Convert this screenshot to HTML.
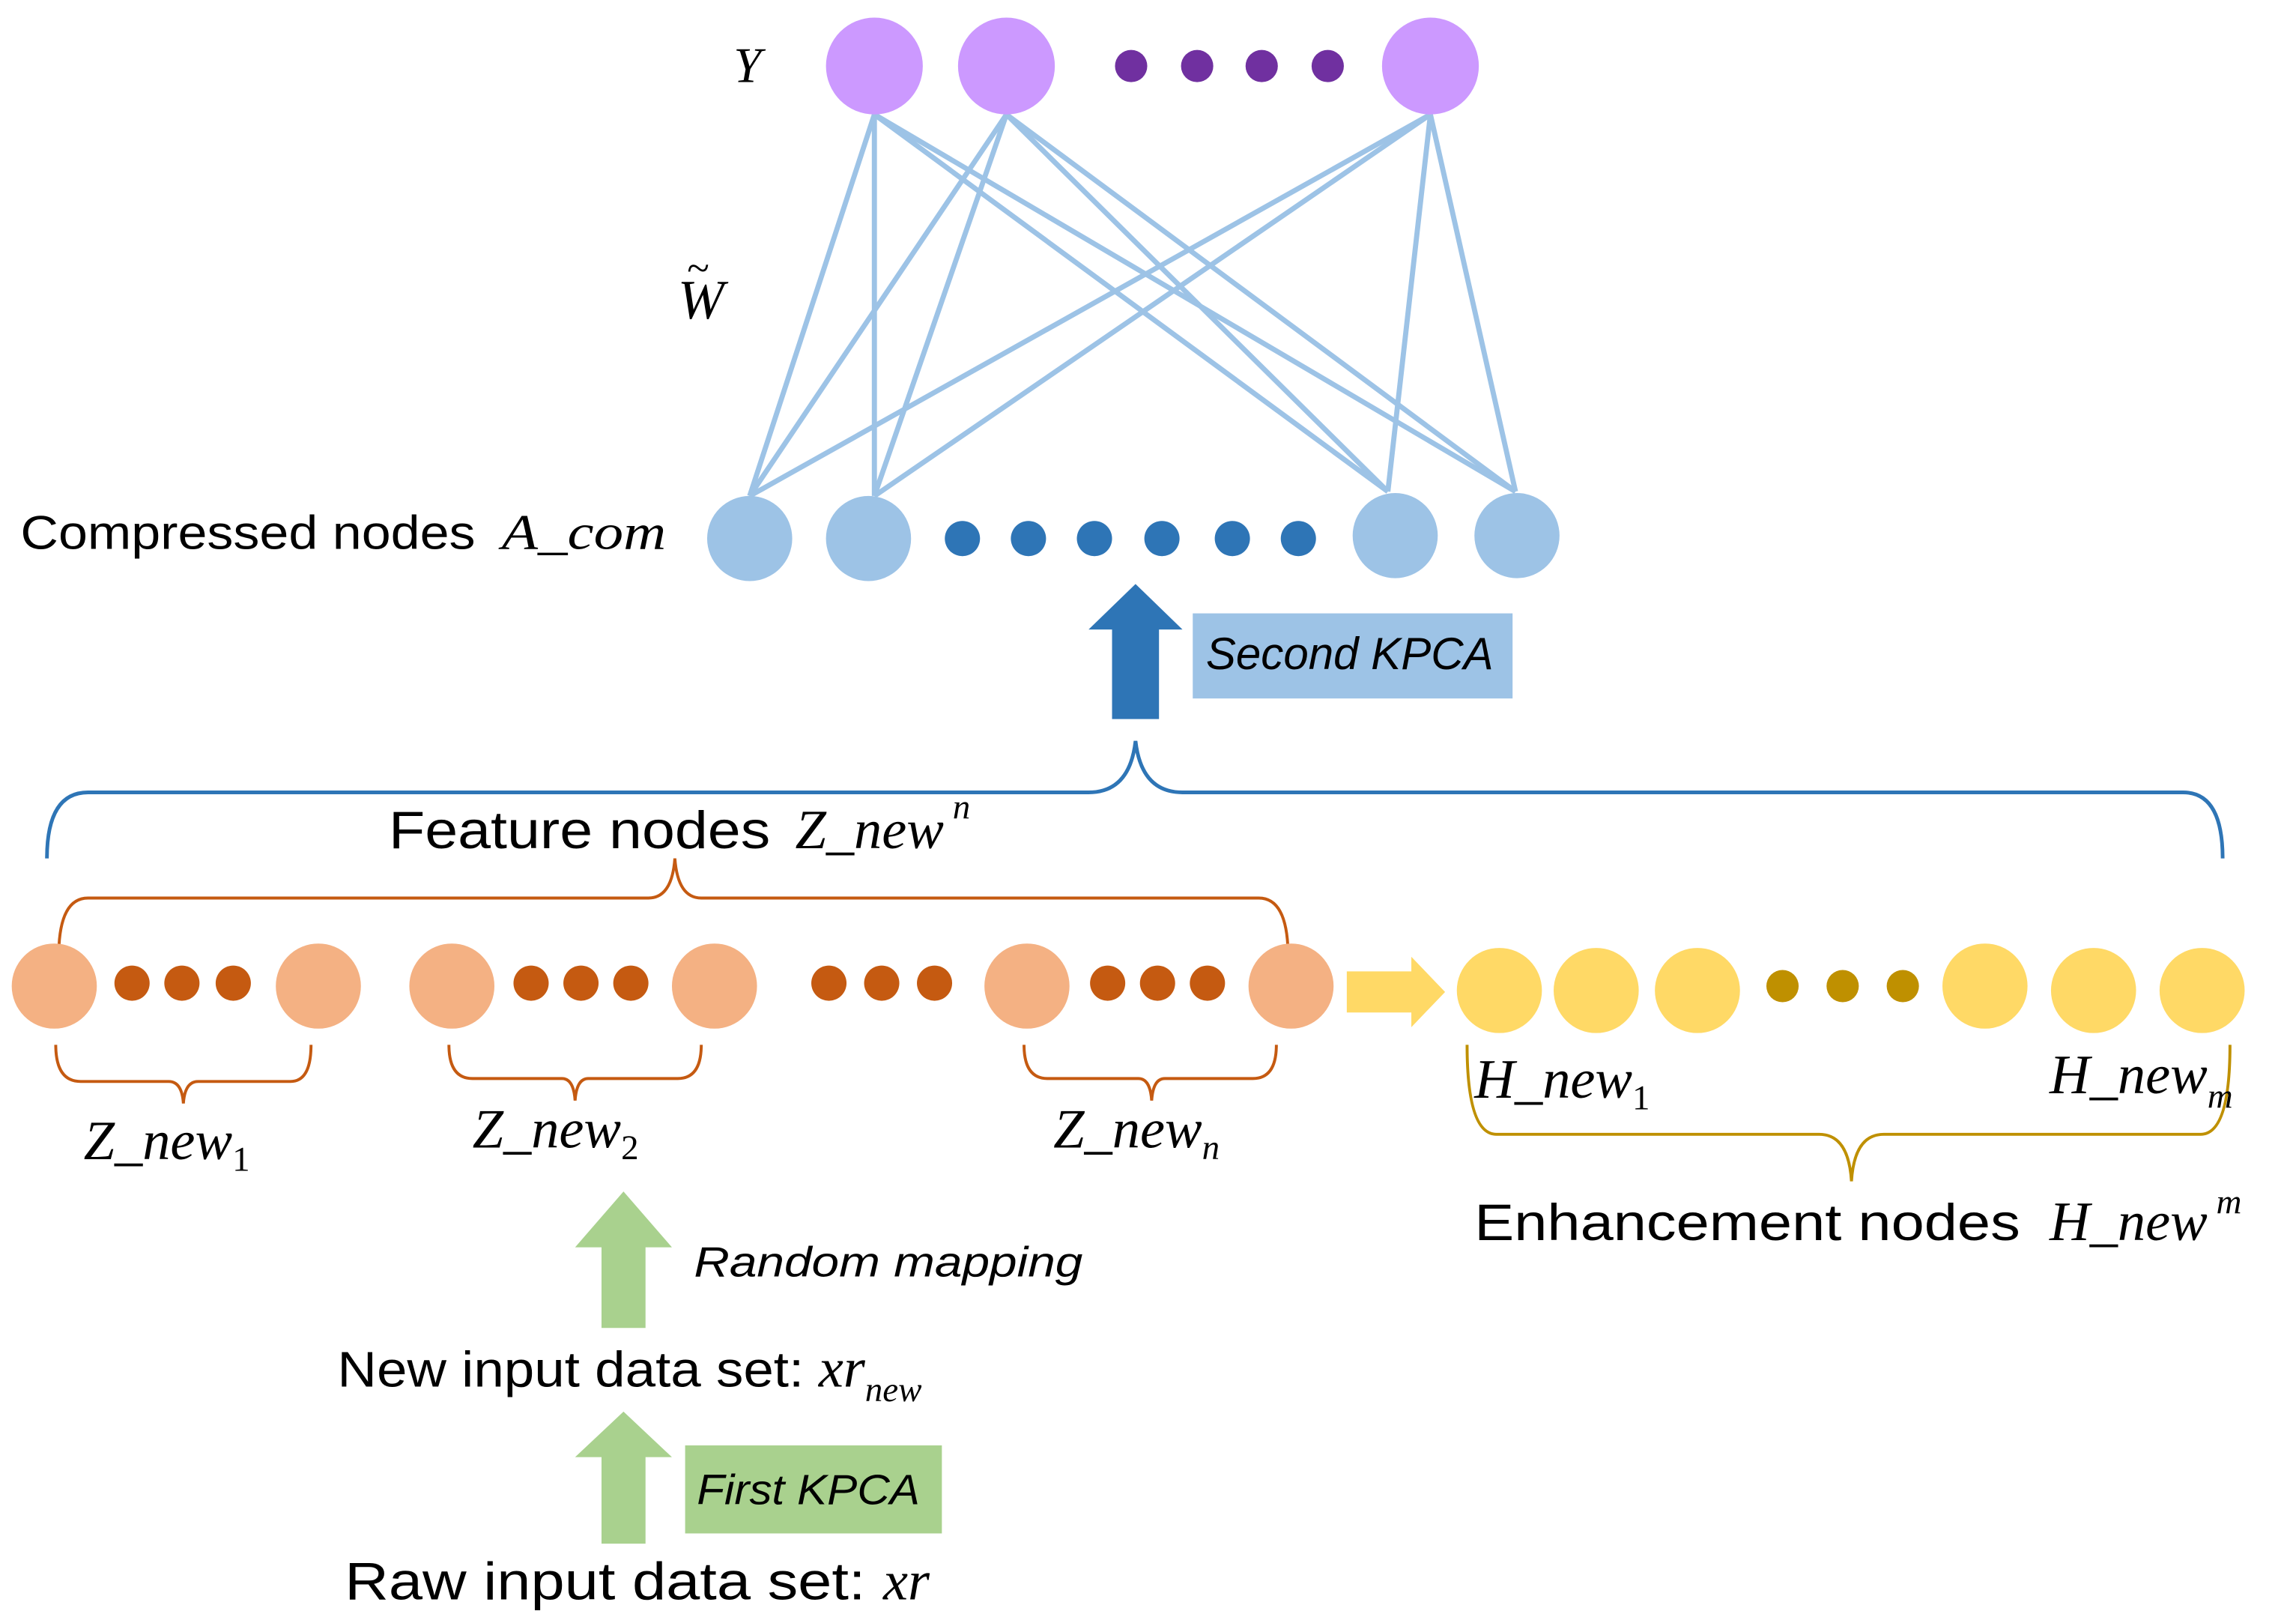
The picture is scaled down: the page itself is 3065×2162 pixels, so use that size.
<!DOCTYPE html>
<html><head><meta charset="utf-8"><style>
html,body{margin:0;padding:0;background:#fff;}
svg{display:block;}
.t{font-family:"Liberation Sans",sans-serif;fill:#000;}
.m{font-family:"Liberation Serif",serif;font-style:italic;fill:#000;}
.s{font-size:24px;}
</style></head><body>
<svg width="3065" height="2162" viewBox="0 0 1565 1104" preserveAspectRatio="none" xmlns="http://www.w3.org/2000/svg">
<g stroke="#9dc3e6" stroke-width="3.5" fill="none">
<line x1="596" y1="78" x2="511" y2="338"/><line x1="596" y1="78" x2="596" y2="338"/><line x1="596" y1="78" x2="946" y2="335"/><line x1="596" y1="78" x2="1033" y2="335"/>
<line x1="686" y1="78" x2="511" y2="338"/><line x1="686" y1="78" x2="596" y2="338"/><line x1="686" y1="78" x2="946" y2="335"/><line x1="686" y1="78" x2="1033" y2="335"/>
<line x1="975" y1="78" x2="511" y2="338"/><line x1="975" y1="78" x2="596" y2="338"/><line x1="975" y1="78" x2="946" y2="335"/><line x1="975" y1="78" x2="1033" y2="335"/>
</g>
<g fill="#cc99ff"><circle cx="596" cy="45" r="33"/><circle cx="686" cy="45" r="33"/><circle cx="975" cy="45" r="33"/></g>
<g fill="#7030a0"><circle cx="771" cy="45" r="11"/><circle cx="816" cy="45" r="11"/><circle cx="860" cy="45" r="11"/><circle cx="905" cy="45" r="11"/></g>
<text class="m" x="500" y="56" font-size="34">Y</text>
<text class="m" x="462" y="217" font-size="38">W</text><text class="m" x="468" y="192" font-size="28">~</text>
<g fill="#9dc3e6"><circle cx="511" cy="367" r="29"/><circle cx="592" cy="367" r="29"/><circle cx="951" cy="365" r="29"/><circle cx="1034" cy="365" r="29"/></g>
<g fill="#2e75b6"><circle cx="656" cy="367" r="12"/><circle cx="701" cy="367" r="12"/><circle cx="746" cy="367" r="12"/><circle cx="792" cy="367" r="12"/><circle cx="840" cy="367" r="12"/><circle cx="885" cy="367" r="12"/></g>
<text class="t" x="14" y="374" font-size="32" textLength="310" lengthAdjust="spacingAndGlyphs">Compressed nodes</text>
<text class="m" x="342" y="374" font-size="34" textLength="112" lengthAdjust="spacingAndGlyphs">A_com</text>
<polygon fill="#2e75b6" points="774,398 806,429 790,429 790,490 758,490 758,429 742,429"/>
<rect x="813" y="418" width="218" height="58" fill="#9dc3e6"/>
<text class="t" x="822" y="456" font-size="31" font-style="italic" textLength="196" lengthAdjust="spacingAndGlyphs">Second KPCA</text>
<path d="M32,585 Q32,540 60,540 L742,540 Q770,540 774,505 Q778,540 806,540 L1488,540 Q1515,540 1515,585" fill="none" stroke="#2e75b6" stroke-width="2.5"/>
<text class="t" x="265" y="578" font-size="36" textLength="260" lengthAdjust="spacingAndGlyphs">Feature nodes</text>
<text class="m" x="542" y="578" font-size="38">Z_new<tspan class="s" dy="-20" dx="6">n</tspan></text>
<path d="M40,652 Q40,612 60,612 L442,612 Q458,612 460,585 Q462,612 478,612 L858,612 Q878,612 878,652" fill="none" stroke="#c55a11" stroke-width="2"/>
<g fill="#f4b183"><circle cx="37" cy="672" r="29"/><circle cx="217" cy="672" r="29"/><circle cx="308" cy="672" r="29"/><circle cx="487" cy="672" r="29"/><circle cx="700" cy="672" r="29"/><circle cx="880" cy="672" r="29"/></g>
<g fill="#c55a11"><circle cx="90" cy="670" r="12"/><circle cx="124" cy="670" r="12"/><circle cx="159" cy="670" r="12"/><circle cx="362" cy="670" r="12"/><circle cx="396" cy="670" r="12"/><circle cx="430" cy="670" r="12"/><circle cx="565" cy="670" r="12"/><circle cx="601" cy="670" r="12"/><circle cx="637" cy="670" r="12"/><circle cx="755" cy="670" r="12"/><circle cx="789" cy="670" r="12"/><circle cx="823" cy="670" r="12"/></g>
<polygon fill="#ffd966" points="918,662 962,662 962,652 985,676 962,700 962,690 918,690"/>
<g fill="#ffd966"><circle cx="1022" cy="675" r="29"/><circle cx="1088" cy="675" r="29"/><circle cx="1157" cy="675" r="29"/><circle cx="1353" cy="672" r="29"/><circle cx="1427" cy="675" r="29"/><circle cx="1501" cy="675" r="29"/></g>
<g fill="#bf9000"><circle cx="1215" cy="672" r="11"/><circle cx="1256" cy="672" r="11"/><circle cx="1297" cy="672" r="11"/></g>
<g fill="none" stroke="#c55a11" stroke-width="2">
<path d="M38,712 Q38,737 55,737 L115,737 Q124,737 125,752 Q126,737 135,737 L198,737 Q212,737 212,712"/>
<path d="M306,712 Q306,735 322,735 L383,735 Q391,735 392,750 Q393,735 401,735 L462,735 Q478,735 478,712"/>
<path d="M698,712 Q698,735 714,735 L776,735 Q784,735 785,750 Q786,735 794,735 L854,735 Q870,735 870,712"/>
</g>
<path d="M1000,712 Q1000,773 1020,773 L1240,773 Q1260,773 1262,805 Q1264,773 1284,773 L1500,773 Q1520,773 1520,712" fill="none" stroke="#bf9000" stroke-width="2"/>
<text class="m" x="57" y="790" font-size="38">Z_new<tspan class="s" dy="8" font-style="normal">1</tspan></text>
<text class="m" x="322" y="782" font-size="38">Z_new<tspan class="s" dy="8" font-style="normal">2</tspan></text>
<text class="m" x="718" y="782" font-size="38">Z_new<tspan class="s" dy="8">n</tspan></text>
<text class="m" x="1005" y="748" font-size="38">H_new<tspan class="s" dy="8" font-style="normal">1</tspan></text>
<text class="m" x="1397" y="745" font-size="38">H_new<tspan class="s" dy="10">m</tspan></text>
<text class="t" x="1005" y="845" font-size="35" textLength="372" lengthAdjust="spacingAndGlyphs">Enhancement nodes</text>
<text class="m" x="1397" y="845" font-size="38">H_new<tspan class="s" dy="-18" dx="6">m</tspan></text>
<polygon fill="#a9d18e" points="425,812 458,850 440,850 440,905 410,905 410,850 392,850"/>
<text class="t" x="473" y="870" font-size="29" font-style="italic" textLength="265" lengthAdjust="spacingAndGlyphs">Random mapping</text>
<text class="t" x="230" y="945" font-size="34" textLength="318" lengthAdjust="spacingAndGlyphs">New input data set:</text>
<text class="m" x="558" y="945" font-size="38">xr<tspan class="s" dy="10">new</tspan></text>
<polygon fill="#a9d18e" points="425,962 458,993 440,993 440,1052 410,1052 410,993 392,993"/>
<rect x="467" y="985" width="175" height="60" fill="#a9d18e"/>
<text class="t" x="475" y="1025" font-size="29" font-style="italic" textLength="152" lengthAdjust="spacingAndGlyphs">First KPCA</text>
<text class="t" x="235" y="1090" font-size="36" textLength="355" lengthAdjust="spacingAndGlyphs">Raw input data set:</text>
<text class="m" x="602" y="1090" font-size="38">xr</text>
</svg>
</body></html>
